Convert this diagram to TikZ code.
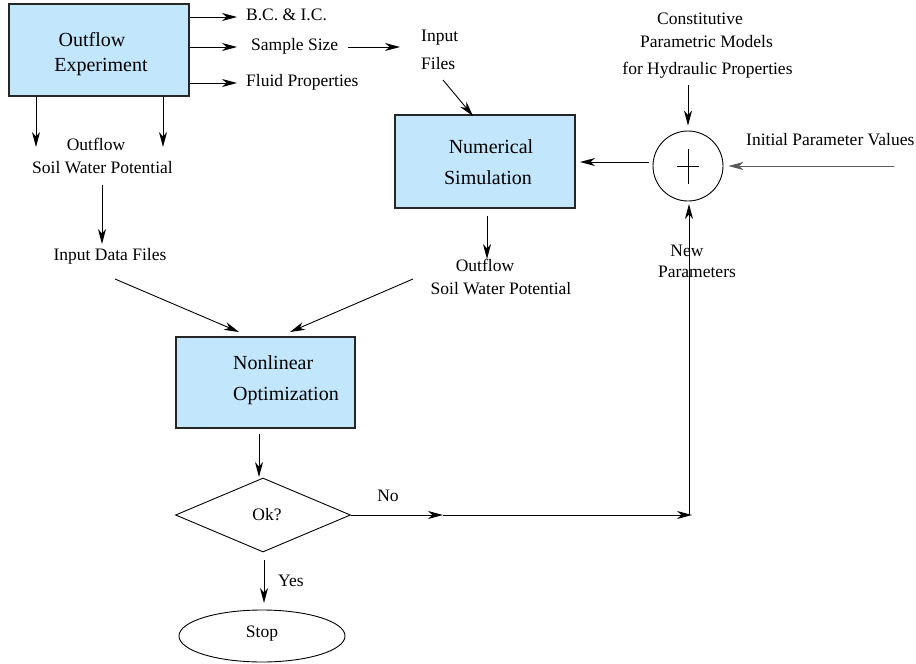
\documentclass[tikz,border=0pt]{standalone}
\usepackage{fontspec}
\setmainfont{Liberation Serif}
\usetikzlibrary{arrows.meta,shapes.geometric,calc}
\definecolor{boxblue}{RGB}{194,230,252}
\begin{document}
\begin{tikzpicture}[x=1pt,y=-1pt,
 box/.style={draw=black!85,fill=boxblue,line width=1.1pt,inner sep=0pt},
 sm/.style={inner sep=0pt,font=\fontsize{17.5}{21}\selectfont,text height=0.66em,text depth=0pt},
 bg/.style={inner sep=0pt,font=\fontsize{20}{24}\selectfont,text height=0.66em,text depth=0pt},
 arr/.style={-{Stealth[length=15pt,width=8pt,inset=4.5pt]},line width=0.9pt},
 ln/.style={line width=0.9pt}]
\fill[white] (0,0) rectangle (916,664);
\useasboundingbox (0,0) rectangle (916,664);

% boxes
\node[box,minimum width=180pt,minimum height=92pt] (exp) at (99,50) {};
\node[bg] (expA) at (92,43) {Outflow};
\node[bg] (expB) at (101,68) {Experiment};

\node[box,minimum width=180pt,minimum height=93pt] (sim) at (485,161.5) {};
\node[bg] (simA) at (491,150) {Numerical};
\node[bg] (simB) at (488,181) {Simulation};

\node[box,minimum width=179pt,minimum height=91pt] (opt) at (265.5,382.5) {};
\node[bg,anchor=west] (optA) at (233,366) {Nonlinear};
\node[bg,anchor=west] (optB) at (233,397) {Optimization};

\node[diamond,draw,ln,minimum width=175pt,minimum height=74pt,inner sep=0pt] (ok) at (263,515) {};
\node[sm] (okt) at (267,517) {Ok?};
\node[ellipse,draw,ln,minimum width=166pt,minimum height=52pt,inner sep=0pt] (stop) at (262,636) {};
\node[sm] (stopt) at (262,634) {Stop};

\node[circle,draw,ln,minimum size=70pt,inner sep=0pt] (circ) at (688,166) {};
\draw[ln] (circ.center) +(-11,0) -- +(11,0);
\draw[ln] (circ.center) +(0,-17.5) -- +(0,17.5);

% labels
\node[sm,anchor=west] (bc) at (246,17) {B.C. \& I.C.};
\node[sm,anchor=west] (ss) at (251,47) {Sample Size};
\node[sm,anchor=west] (fp) at (246,83) {Fluid Properties};
\node[sm,anchor=west] (in1) at (421,38) {Input};
\node[sm,anchor=west] (in2) at (421,66) {Files};
\node[sm] (of1) at (96,147) {Outflow};
\node[sm] (swp1) at (102.5,170) {Soil Water Potential};
\node[sm] (idf) at (110,257) {Input Data Files};
\node[sm] (of2) at (485,268) {Outflow};
\node[sm] (swp2) at (501,291) {Soil Water Potential};
\node[sm] (con1) at (700,21) {Constitutive};
\node[sm] (con2) at (706.5,44) {Parametric Models};
\node[sm] (con3) at (707.5,71) {for Hydraulic Properties};
\node[sm,anchor=west] (ipv) at (746,142) {Initial Parameter Values};
\node[sm] (new1) at (687,253) {New};
\node[sm] (new2) at (697,274) {Parameters};
\node[sm] (no) at (388,498) {No};
\node[sm,anchor=west] (yes) at (278,583) {Yes};

% arrow end coordinates
\coordinate (bcT) at (237,17);
\coordinate (ssT) at (237,47);
\coordinate (fpT) at (237,83);
\coordinate (inT) at (400,47);
\coordinate (dl) at (36,147);
\coordinate (dr) at (163,147);
\coordinate (q1) at (115,279);
\coordinate (q1t) at (239,332);
\coordinate (q2) at (413,279);
\coordinate (q2t) at (290,332);
\coordinate (fS) at (443,80);
\coordinate (fT) at (473,116);
\coordinate (sT) at (487,259);
\coordinate (cL) at (649,162);
\coordinate (sR) at (580,162);
\coordinate (ipS) at (894,166);
\coordinate (okT) at (259,477);
\coordinate (stT) at (264,603);
\coordinate (mid) at (443,515);
\coordinate (corner) at (692,515);
\coordinate (vb) at (689,515);
\coordinate (vt) at (689,204);

% connectors
\draw[arr] (exp.east |- bcT) -- (bcT);
\draw[arr] (exp.east |- ssT) -- (ssT);
\draw[arr] (exp.east |- fpT) -- (fpT);
\draw[arr] ([xshift=10pt]ss.east) -- (inT);
\draw[arr] (exp.south -| dl) -- (dl);
\draw[arr] (exp.south -| dr) -- (dr);
\draw[arr,shorten <=11pt] (swp1.south -| 102,0) -- (102,244);
\draw[arr] (q1) -- (q1t);
\draw[arr] (q2) -- (q2t);
\draw[arr] (fS) -- (fT);
\draw[arr] (sim.south -| sT) ++(0,7) -- (sT);
\draw[arr] (cL) -- (sR);
\draw[arr] (circ.north |- 0,85) -- ([yshift=5pt]circ.north);
\draw[arr,draw=black!65] (ipS) -- ([xshift=5pt]circ.east);
\draw[arr] (opt.south -| okT) ++(0,5) -- (okT);
\draw[arr] (264,560) -- (stT);
\draw[arr] (ok.east) -- (mid);
\draw[arr] (mid) -- (corner);
\draw[arr] (vb) -- (vt);
\end{tikzpicture}
\end{document}
